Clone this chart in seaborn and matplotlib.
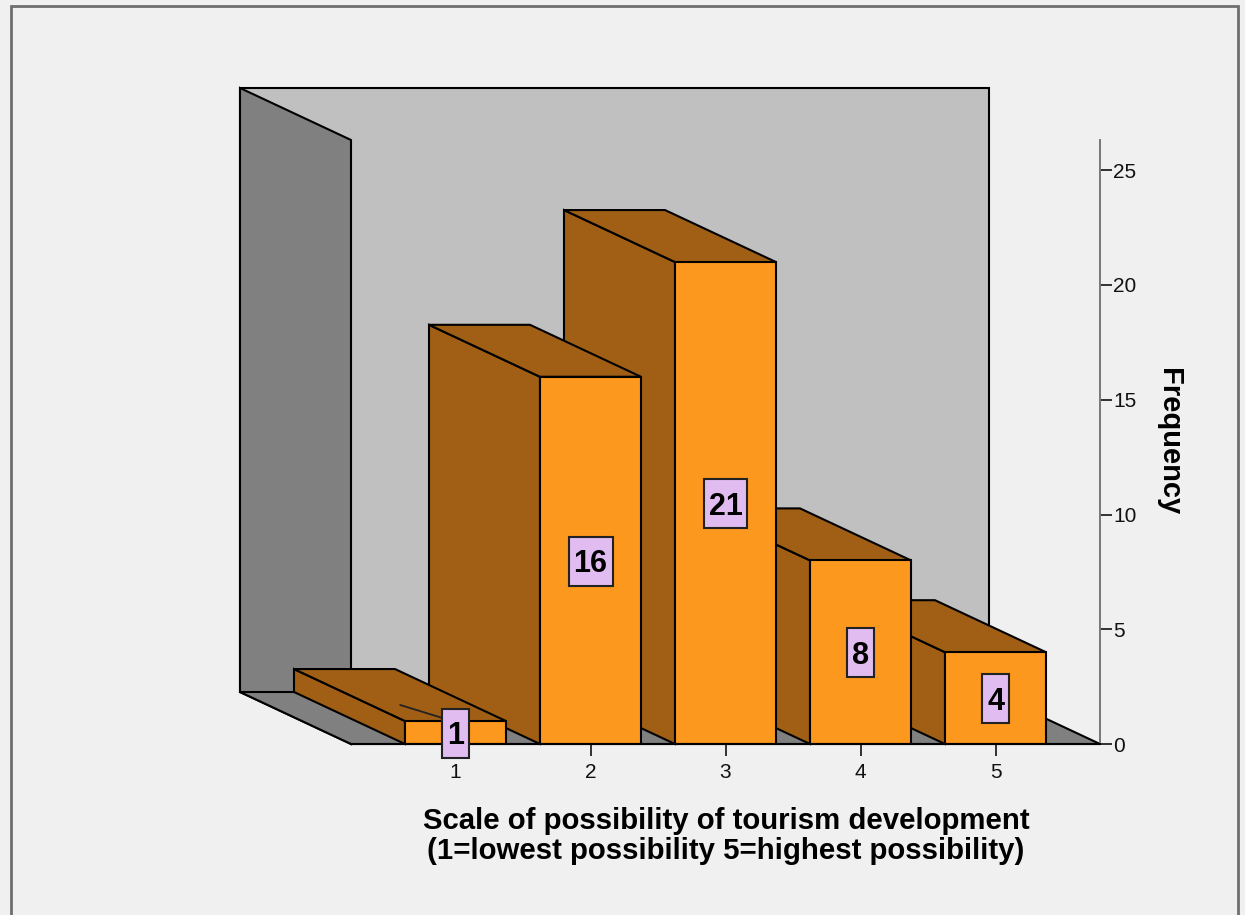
import matplotlib
matplotlib.use("Agg")
import matplotlib.pyplot as plt
from matplotlib.patches import Rectangle
from matplotlib.path import Path
import seaborn as sns

categories = ["1", "2", "3", "4", "5"]
frequencies = [1, 16, 21, 8, 4]
y_ticks = [0, 5, 10, 15, 20, 25]
x_label = "Scale of possibility of tourism development\n(1=lowest possibility 5=highest possibility)"
y_label = "Frequency"

BG = "#f0f0f0"
FRONT = "#fc981d"
SIDE = "#a05f14"
BACK_WALL = "#c0c0c0"
LEFT_WALL = "#808080"
LABEL_BOX = "#e0bcf0"

W, H = 1245, 915
X0_PX, X1_PX, Y0_PX, YTOP_PX = 240, 1100, 744, 88
STEP_PX = 135.0
UNIT_PX = 22.95
CENTER0_PX = 455.5
DX = -111 / STEP_PX          # oblique depth in x-data units
DY = 52 / UNIT_PX            # oblique depth in y-data units
BAR_W = 101 / STEP_PX
LW = 1.5


def label_box(x0, y0, width, height, mutation_size):
    """Tall label box, padded more vertically than horizontally (display pixels)."""
    padx, pad_low, pad_high = 5, 6.5, 12.5
    x = [x0 - padx, x0 + width + padx, x0 + width + padx, x0 - padx, x0 - padx]
    y = [y0 - pad_low, y0 - pad_low, y0 + height + pad_high, y0 + height + pad_high, y0 - pad_low]
    return Path(list(zip(x, y)), closed=True)


sns.set_theme(style="white")
plt.rcParams["font.family"] = ["Liberation Sans", "DejaVu Sans"]

fig = plt.figure(figsize=(W / 100, H / 100), dpi=100, facecolor=BG)
ax = fig.add_axes([X0_PX / W, (H - Y0_PX) / H, (X1_PX - X0_PX) / W, (Y0_PX - YTOP_PX) / H])
ax.patch.set_alpha(0)

sns.barplot(x=categories, y=frequencies, color=FRONT, saturation=1, width=BAR_W,
            edgecolor="black", linewidth=LW, ax=ax)

xmin = (X0_PX - CENTER0_PX) / STEP_PX
xmax = (X1_PX - CENTER0_PX) / STEP_PX
ymax = (Y0_PX - YTOP_PX) / UNIT_PX
ax.set_xlim(xmin, xmax)
ax.set_ylim(0, ymax)

# walls and floor
front_left = xmin - DX
back_right = xmax + DX
wall = dict(edgecolor="black", linewidth=LW, zorder=1, joinstyle="miter", clip_on=False)
ax.fill([xmin, back_right, back_right, xmin], [DY, DY, ymax, ymax], facecolor=BACK_WALL, **wall)
ax.fill([xmin, front_left, front_left, xmin], [DY, 0, ymax - DY, ymax], facecolor=LEFT_WALL, **wall)
ax.fill([xmin, back_right, xmax, front_left], [DY, DY, 0, 0], facecolor=LEFT_WALL, **wall)

# oblique faces; bars further left sit in front of those to their right
bars = list(ax.containers[0])
for i, (bar, v) in enumerate(zip(bars, frequencies)):
    z = 20 - 2 * i
    bar.set_zorder(z)
    bar.set_joinstyle("miter")
    left, right = bar.get_x(), bar.get_x() + bar.get_width()
    face = dict(facecolor=SIDE, edgecolor="black", linewidth=LW, zorder=z - 1, joinstyle="miter", clip_on=False)
    ax.fill([left, left + DX, left + DX, left], [0, DY, v + DY, v], **face)
    ax.fill([left, left + DX, right + DX, right], [v, v + DY, v + DY, v], **face)
    ax.annotate(str(v), xy=(i, v / 2), xytext=(0, -2.6), textcoords="offset points",
                ha="center", va="center", fontsize=22, fontweight="bold",
                color="black", zorder=50,
                bbox=dict(boxstyle=label_box, facecolor=LABEL_BOX, edgecolor="#222222", linewidth=1.5))

# leader line of the first bar's label
ax.plot([-0.41, -0.10], [1.70, 1.14], color="#222222", lw=1.3, zorder=30)

# axes
for s in ("top", "left"):
    ax.spines[s].set_visible(False)
ax.yaxis.tick_right()
ax.spines["right"].set_visible(True)
ax.spines["right"].set_bounds(0, 26.3)
ax.spines["right"].set_color("#777777")
ax.spines["right"].set_linewidth(1.4)
ax.spines["bottom"].set_visible(True)
ax.spines["bottom"].set_bounds(front_left, xmax)
ax.spines["bottom"].set_color("black")
ax.spines["bottom"].set_linewidth(LW)
ax.spines["bottom"].set_zorder(40)
ax.set_yticks(y_ticks)
ax.tick_params(axis="y", right=True, length=8.5, width=1.3, color="#222222", labelsize=15,
               pad=1, labelcolor="#111111")
ax.tick_params(axis="x", bottom=True, length=8.5, width=1.3, color="#222222", labelsize=15,
               pad=5.5, labelcolor="#111111")

ax.set_xlabel(x_label, fontsize=21.2, fontweight="bold", color="black", linespacing=1.08)
ax.xaxis.set_label_coords((726 - X0_PX) / (X1_PX - X0_PX), -(865 - Y0_PX) / (Y0_PX - YTOP_PX))
ax.xaxis.label.set_va("bottom")
ax.yaxis.set_label_position("right")
ax.set_ylabel(y_label, fontsize=21, fontweight="bold", color="black", rotation=-90)
ax.yaxis.set_label_coords((1169 - X0_PX) / (X1_PX - X0_PX), (Y0_PX - 442) / (Y0_PX - YTOP_PX))
ax.yaxis.label.set_va("center")

# outer frame, open at the bottom edge of the picture
fig.add_artist(Rectangle((10.5 / W, -0.02), (1238 - 10.5) / W, 1.02 - 5.5 / H, transform=fig.transFigure,
                         facecolor="none", edgecolor="#6e6e6e", linewidth=2.0))

fig.savefig("out.png", dpi=100, facecolor=BG)
